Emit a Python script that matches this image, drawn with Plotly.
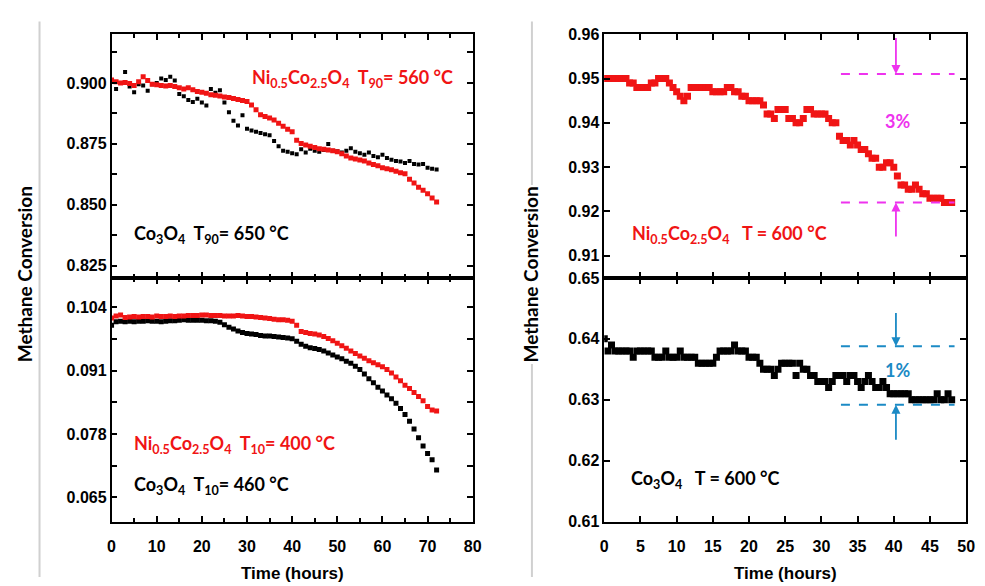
import plotly.graph_objects as go

# ---------------- data ----------------
hours_72 = list(range(0, 73))
hours_48 = [i * 0.5 for i in range(0, 97)]

# Top-left panel: CH4 conversion near 90 %
ni_t90 = [0.9012, 0.9005, 0.9000, 0.9002, 0.8998, 0.8990, 0.9005, 0.9025, 0.9010, 0.8995,
          0.8993, 0.8990, 0.8988, 0.8990, 0.8985, 0.8980, 0.8975, 0.8980, 0.8972, 0.8965,
          0.8962, 0.8958, 0.8952, 0.8950, 0.8946, 0.8942, 0.8940, 0.8936, 0.8932, 0.8928,
          0.8924, 0.8910, 0.8890, 0.8870, 0.8862, 0.8856, 0.8848, 0.8835, 0.8822, 0.8810,
          0.8800, 0.8765, 0.8752, 0.8745, 0.8740, 0.8735, 0.8730, 0.8728, 0.8725, 0.8722,
          0.8718, 0.8710, 0.8700, 0.8692, 0.8688, 0.8684, 0.8680, 0.8672, 0.8665, 0.8660,
          0.8652, 0.8648, 0.8644, 0.8638, 0.8632, 0.8628, 0.8605, 0.8590, 0.8572, 0.8560,
          0.8545, 0.8528, 0.8512]
co_t90 = [0.9005, 0.8975, 0.9000, 0.9045, 0.8985, 0.8962, 0.8995, 0.8990, 0.8968, 0.8995,
          0.9000, 0.9018, 0.9012, 0.9025, 0.9010, 0.8955, 0.8945, 0.8930, 0.8922, 0.8935,
          0.8920, 0.8908, 0.8975, 0.8960, 0.8970, 0.8920, 0.8880, 0.8845, 0.8825, 0.8868,
          0.8812, 0.8805, 0.8800, 0.8795, 0.8790, 0.8785, 0.8762, 0.8740, 0.8722, 0.8718,
          0.8712, 0.8708, 0.8728, 0.8715, 0.8730, 0.8722, 0.8718, 0.8725, 0.8750, 0.8722,
          0.8720, 0.8715, 0.8722, 0.8732, 0.8718, 0.8712, 0.8705, 0.8715, 0.8700, 0.8695,
          0.8705, 0.8692, 0.8685, 0.8680, 0.8678, 0.8672, 0.8680, 0.8668, 0.8665, 0.8668,
          0.8652, 0.8648, 0.8645]

# Bottom-left panel: CH4 conversion near 10 %
ni_t10 = [0.1018, 0.1022, 0.1024, 0.1019, 0.1020, 0.1021, 0.1020, 0.1021, 0.1021, 0.1020,
          0.1022, 0.1021, 0.1021, 0.1022, 0.1021, 0.1022, 0.1022, 0.1023, 0.1023, 0.1023,
          0.1024, 0.1024, 0.1023, 0.1023, 0.1023, 0.1022, 0.1022, 0.1022, 0.1023, 0.1022,
          0.1021, 0.1021, 0.1020, 0.1019, 0.1018, 0.1017, 0.1015, 0.1014, 0.1014, 0.1013,
          0.1011, 0.1003, 0.0990, 0.0988, 0.0986, 0.0985, 0.0983, 0.0980, 0.0976, 0.0971,
          0.0966, 0.0961, 0.0956, 0.0950, 0.0945, 0.0940, 0.0935, 0.0930, 0.0926, 0.0922,
          0.0918, 0.0912, 0.0905, 0.0897, 0.0889, 0.0880, 0.0873, 0.0865, 0.0857, 0.0848,
          0.0836, 0.0829, 0.0827]
co_t10 = [0.1003, 0.1010, 0.1011, 0.1010, 0.1011, 0.1010, 0.1011, 0.1011, 0.1012, 0.1011,
          0.1011, 0.1010, 0.1011, 0.1012, 0.1012, 0.1013, 0.1014, 0.1013, 0.1013, 0.1013,
          0.1013, 0.1012, 0.1012, 0.1011, 0.1009, 0.1004, 0.0999, 0.0995, 0.0991, 0.0988,
          0.0986, 0.0985, 0.0984, 0.0982, 0.0981, 0.0981, 0.0980, 0.0979, 0.0978, 0.0977,
          0.0975, 0.0970, 0.0964, 0.0960, 0.0957, 0.0955, 0.0953, 0.0950, 0.0946, 0.0942,
          0.0938, 0.0934, 0.0929, 0.0925, 0.0919, 0.0912, 0.0903, 0.0893, 0.0885, 0.0876,
          0.0868, 0.0860, 0.0852, 0.0843, 0.0832, 0.0820, 0.0806, 0.0790, 0.0772, 0.0755,
          0.0740, 0.0727, 0.0706]

# Top-right panel: Ni0.5Co2.5O4 at 600 °C (every 0.5 h)
ni_600 = [0.950, 0.950, 0.950, 0.950, 0.950, 0.950, 0.950, 0.949, 0.949, 0.948,
          0.948, 0.948, 0.948, 0.949, 0.949, 0.950, 0.950, 0.950, 0.949, 0.948,
          0.947, 0.946, 0.945, 0.946, 0.948, 0.948, 0.948, 0.948, 0.948, 0.948,
          0.947, 0.947, 0.947, 0.947, 0.948, 0.948, 0.947, 0.947, 0.946, 0.946,
          0.945, 0.945, 0.945, 0.945, 0.944, 0.942, 0.942, 0.941, 0.943, 0.943,
          0.943, 0.941, 0.941, 0.940, 0.940, 0.941, 0.943, 0.943, 0.942, 0.942,
          0.942, 0.942, 0.941, 0.940, 0.940, 0.937, 0.936, 0.936, 0.935, 0.936,
          0.935, 0.934, 0.934, 0.933, 0.932, 0.932, 0.930, 0.930, 0.931, 0.931,
          0.930, 0.928, 0.926, 0.926, 0.925, 0.925, 0.926, 0.925, 0.924, 0.924,
          0.923, 0.923, 0.923, 0.923, 0.922, 0.922, 0.922]

# Bottom-right panel: Co3O4 at 600 °C (every 0.5 h)
co_600 = [0.640, 0.638, 0.639, 0.638, 0.638, 0.638, 0.638, 0.638, 0.637, 0.638,
          0.638, 0.638, 0.638, 0.638, 0.637, 0.637, 0.637, 0.638, 0.637, 0.637,
          0.637, 0.638, 0.637, 0.637, 0.637, 0.637, 0.636, 0.636, 0.636, 0.636,
          0.636, 0.637, 0.638, 0.638, 0.638, 0.638, 0.639, 0.638, 0.638, 0.638,
          0.637, 0.637, 0.637, 0.636, 0.635, 0.635, 0.635, 0.634, 0.635, 0.636,
          0.636, 0.636, 0.636, 0.634, 0.636, 0.635, 0.635, 0.634, 0.634, 0.633,
          0.633, 0.633, 0.632, 0.633, 0.634, 0.634, 0.634, 0.633, 0.634, 0.634,
          0.633, 0.632, 0.633, 0.634, 0.633, 0.632, 0.632, 0.633, 0.632, 0.631,
          0.631, 0.631, 0.631, 0.631, 0.631, 0.630, 0.630, 0.630, 0.630, 0.630,
          0.630, 0.630, 0.631, 0.630, 0.630, 0.631, 0.630]

# loss bands (levels) and arrow position
ni_band = [0.951, 0.922]
co_band = [0.6388, 0.6292]
band_x = [32.7, 48.4]
arrow_x = 40.3
ni_arrow_from = [0.9595, 0.9140]
co_arrow_from = [0.6445, 0.6232]

left_x_ticks = [0, 10, 20, 30, 40, 50, 60, 70, 80]
right_x_ticks = [0, 5, 10, 15, 20, 25, 30, 35, 40, 45, 50]
tl_y_ticks = [0.825, 0.850, 0.875, 0.900]
tl_y_labels = ["0.825", "0.850", "0.875", "0.900"]
bl_y_ticks = [0.065, 0.078, 0.091, 0.104]
bl_y_labels = ["0.065", "0.078", "0.091", "0.104"]
tr_y_ticks = [0.91, 0.92, 0.93, 0.94, 0.95, 0.96]
br_y_ticks = [0.61, 0.62, 0.63, 0.64, 0.65]

RED = "#f01414"
BLACK = "#000000"
MAGENTA = "#ee33ee"
BLUE = "#1b8ac5"

W, H = 985, 586
def px_x(p): return p / W
def px_y(p): return 1 - p / H

L_DOM = [px_x(109), px_x(475)]
R_DOM = [px_x(608.3), px_x(975)]
TOP_DOM = [px_y(278), px_y(27)]
BOT_DOM = [px_y(529), px_y(278)]

fig = go.Figure()

def pts(x, y, xa, ya, color, size, name):
    fig.add_trace(go.Scatter(x=x, y=y, mode="markers", xaxis=xa, yaxis=ya, name=name,
                             marker=dict(symbol="square", size=size, color=color,
                                         line=dict(width=0)),
                             showlegend=False))

pts(hours_72, co_t90, "x", "y", BLACK, 4, "Co3O4 T90")
pts(hours_72, ni_t90, "x", "y", RED, 5, "Ni0.5Co2.5O4 T90")
pts(hours_72, co_t10, "x2", "y2", BLACK, 5, "Co3O4 T10")
pts(hours_72, ni_t10, "x2", "y2", RED, 5, "Ni0.5Co2.5O4 T10")
pts(hours_48, ni_600, "x3", "y3", RED, 7, "Ni0.5Co2.5O4 600")
pts(hours_48, co_600, "x4", "y4", BLACK, 7, "Co3O4 600")

# dashed band lines
for lvl in ni_band:
    fig.add_trace(go.Scatter(x=band_x, y=[lvl, lvl], mode="lines", xaxis="x3", yaxis="y3",
                             line=dict(color=MAGENTA, width=2, dash="dash"), showlegend=False))
for lvl in co_band:
    fig.add_trace(go.Scatter(x=band_x, y=[lvl, lvl], mode="lines", xaxis="x4", yaxis="y4",
                             line=dict(color=BLUE, width=2, dash="dash"), showlegend=False))

tick_font = dict(family="Liberation Sans, Arial", size=16, color="black", weight="bold")

def xaxis_cfg(domain, anchor, rng, ticks, labels, minor_dtick=None):
    d = dict(domain=domain, anchor=anchor, range=rng, tickmode="array", tickvals=ticks,
             ticktext=[str(t) for t in ticks], showticklabels=labels, ticks="inside",
             ticklen=6, tickwidth=1.5, tickcolor="black", showline=True, linecolor="black",
             linewidth=1.5, mirror="allticks", showgrid=False, zeroline=False,
             tickfont=tick_font, ticklabelstandoff=9)
    if minor_dtick:
        d["minor"] = dict(dtick=minor_dtick, tick0=0, ticks="inside", ticklen=4,
                          tickwidth=1.5, tickcolor="black", showgrid=False)
    return d

def yaxis_cfg(domain, anchor, rng, ticks, text, minor_vals=None):
    d = dict(domain=domain, anchor=anchor, range=rng, tickmode="array", tickvals=ticks,
             ticktext=text, ticks="inside", ticklen=6, tickwidth=1.5, tickcolor="black",
             showline=True, linecolor="black", linewidth=1.5, mirror="allticks",
             showgrid=False, zeroline=False, tickfont=tick_font)
    if minor_vals:
        d["minor"] = dict(tickmode="array", tickvals=minor_vals, ticks="inside", ticklen=6,
                          tickwidth=1.5, tickcolor="black", showgrid=False)
    return d

fig.update_layout(
    width=W, height=H, margin=dict(l=0, r=0, t=0, b=0),
    paper_bgcolor="white", plot_bgcolor="white",
    xaxis=xaxis_cfg(L_DOM, "y", [0, 80], left_x_ticks, False, 5),
    yaxis=yaxis_cfg(TOP_DOM, "x", [0.82, 0.92], tl_y_ticks, tl_y_labels,
                    [0.8375, 0.8625, 0.8875, 0.9125]),
    xaxis2=xaxis_cfg(L_DOM, "y2", [0, 80], left_x_ticks, True, 5),
    yaxis2=yaxis_cfg(BOT_DOM, "x2", [0.06, 0.11], bl_y_ticks, bl_y_labels,
                     [0.0715, 0.0845, 0.0975]),
    xaxis3=xaxis_cfg(R_DOM, "y3", [0, 50], right_x_ticks, False),
    yaxis3=yaxis_cfg(TOP_DOM, "x3", [0.905, 0.96], tr_y_ticks,
                     ["%.2f" % v for v in tr_y_ticks]),
    xaxis4=xaxis_cfg(R_DOM, "y4", [0, 50], right_x_ticks, True),
    yaxis4=yaxis_cfg(BOT_DOM, "x4", [0.61, 0.65], br_y_ticks,
                     ["%.2f" % v for v in br_y_ticks]),
)

# separators (grey vertical rules of the original figure)
for xp in [36, 535]:
    fig.add_shape(type="line", xref="paper", yref="paper", x0=px_x(xp), x1=px_x(xp),
                  y0=px_y(14), y1=0, line=dict(color="#d0d0d0", width=2), layer="below")

lab_font = "Lato, Open Sans, sans-serif"
S = "\u00a0"

def label(text, x, y, xr, yr, color, size=18, xanchor="left"):
    fig.add_annotation(text=text, x=x, y=y, xref=xr, yref=yr, showarrow=False,
                       xanchor=xanchor, yanchor="middle",
                       font=dict(family=lab_font, size=size, color=color, weight="bold"))

label("Ni<sub>0.5</sub>Co<sub>2.5</sub>O<sub>4</sub>" + S * 2 + "T<sub>90</sub>= 560 °C",
      30.6, 0.9020, "x", "y", RED)
label("Co<sub>3</sub>O<sub>4</sub>" + S * 2 + "T<sub>90</sub>= 650 °C", 4.6, 0.8380, "x", "y", BLACK)
label("Ni<sub>0.5</sub>Co<sub>2.5</sub>O<sub>4</sub>" + S * 2 + "T<sub>10</sub>= 400 °C",
      4.6, 0.0758, "x2", "y2", RED)
label("Co<sub>3</sub>O<sub>4</sub>" + S * 2 + "T<sub>10</sub>= 460 °C", 4.6, 0.0675, "x2", "y2", BLACK)
label("Ni<sub>0.5</sub>Co<sub>2.5</sub>O<sub>4</sub>" + S * 3 + "T = 600 °C",
      3.6, 0.9148, "x3", "y3", RED)
label("Co<sub>3</sub>O<sub>4</sub>" + S * 3 + "T = 600 °C", 3.4, 0.6169, "x4", "y4", BLACK)
label("3%", 40.5, 0.9405, "x3", "y3", MAGENTA, xanchor="center")
label("1%", 40.5, 0.6349, "x4", "y4", BLUE, xanchor="center")

# arrows
def arrow(y_from, y_to, xr, yr, color):
    fig.add_annotation(x=arrow_x, y=y_to, ax=arrow_x, ay=y_from, xref=xr, yref=yr,
                       axref=xr, ayref=yr, showarrow=True, arrowhead=2, arrowsize=1,
                       arrowwidth=1.8, arrowcolor=color, text="")

arrow(ni_arrow_from[0], ni_band[0], "x3", "y3", MAGENTA)
arrow(ni_arrow_from[1], ni_band[1], "x3", "y3", MAGENTA)
arrow(co_arrow_from[0], co_band[0], "x4", "y4", BLUE)
arrow(co_arrow_from[1], co_band[1], "x4", "y4", BLUE)

# axis titles
title_font = dict(family=lab_font, size=19, color="black", weight="bold")
for xp in [20.5, 533.5]:
    fig.add_annotation(text="Methane Conversion", x=px_x(xp), y=px_y(274), xref="paper",
                       yref="paper", showarrow=False, textangle=-90, font=title_font,
                       xanchor="center", yanchor="middle", bgcolor="white")
xt_font = dict(family="Liberation Sans, Arial", size=17, color="black", weight="bold")
for xp in [292.5, 792]:
    fig.add_annotation(text="Time (hours)", x=px_x(xp), y=px_y(582), xref="paper",
                       yref="paper", showarrow=False, font=xt_font,
                       xanchor="center", yanchor="middle")

fig.write_html("out.html")
